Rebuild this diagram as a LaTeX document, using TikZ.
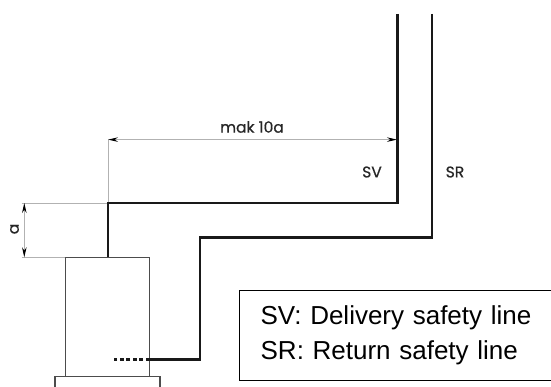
\documentclass[tikz,border=0pt]{standalone}
\usepackage{fontspec}
\setmainfont{Liberation Sans}
\newfontfamily\drawfont[FakeBold=0.6]{Poppins}
\usetikzlibrary{arrows.meta}

\begin{document}
\begin{tikzpicture}[x=1pt,y=-1pt,>={Stealth[length=10pt,width=4.5pt,black]}]
  % styles
  \tikzstyle{pipe} = [line width=2.5pt,draw=black!90,line join=miter];
  \tikzstyle{casing} = [line width=1.4pt,draw=black!70];
  \tikzstyle{dimline} = [line width=0.9pt,draw=black!30];
  \tikzstyle{dimtext} = [font=\drawfont\fontsize{15.5}{18}\selectfont,text=black!85,inner sep=0pt];
  \tikzstyle{legend} = [draw=black,line width=1.3pt,fill=white,align=left,anchor=north west,
    inner sep=0pt,minimum width=330pt,minimum height=90pt,text width=330pt,
    font=\fontsize{26}{35}\selectfont];

  \useasboundingbox (0,0) rectangle (551,387);

  % nodes
  \coordinate (svtop) at (397.7,14);
  \coordinate (svbend) at (397.7,203);
  \coordinate (svknee) at (108,203);
  \coordinate (svend) at (108,257.3);
  \coordinate (srtop) at (432,14);
  \coordinate (srbend) at (432,237.3);
  \coordinate (srknee) at (200,237.3);
  \coordinate (srlow) at (200,359.3);
  \coordinate (srwall) at (149.7,359.3);
  \coordinate (srtip) at (114,359.3);
  \coordinate (boilertl) at (65.7,257.3);
  \coordinate (boilerbr) at (149.7,376.7);
  \coordinate (basetl) at (55,376.7);
  \coordinate (basetr) at (160,376.7);
  \coordinate (baseleft) at (55,387);
  \coordinate (baseright) at (160,387);
  \coordinate (dimtopend) at (21.7,203);
  \coordinate (dimlowend) at (21.7,257.3);
  \coordinate (dimtop) at (24.3,203);
  \coordinate (dimlow) at (24.3,257.3);
  \coordinate (reachleft) at (108,139.6);
  \coordinate (reachright) at (397,139.6);
  \node[dimtext] (reach) at (252,127) {mak 10a};
  \node[dimtext] (sv) at (372,172) {SV};
  \node[dimtext] (sr) at (455,172) {SR};
  \node[dimtext,rotate=90] (a) at (14.5,229) {a};
  \node[legend] (key) at (239,290) {\hspace*{21pt}SV: Delivery safety line\\\hspace*{21pt}SR: Return safety line};

  % edges
  \draw[dimline] (reachleft) -- (svknee);
  \draw[dimline] (dimtopend) -- (svknee);
  \draw[dimline] (dimlowend) -- (boilertl);
  \draw[dimline,<->] (reachleft) -- (reachright);
  \draw[dimline,<->] (dimtop) -- (dimlow);
  \draw[casing] (boilertl) rectangle (boilerbr);
  \draw[casing] (baseleft) -- (basetl) -- (basetr) -- (baseright);
  \draw[pipe] (svtop) -- (svbend) -- (svknee) -- (svend);
  \draw[pipe] (srtop) -- (srbend) -- (srknee) -- (srlow) -- (srwall);
  \draw[pipe,dash pattern=on 4pt off 2.5pt] (srwall) -- (srtip);
\end{tikzpicture}
\end{document}
